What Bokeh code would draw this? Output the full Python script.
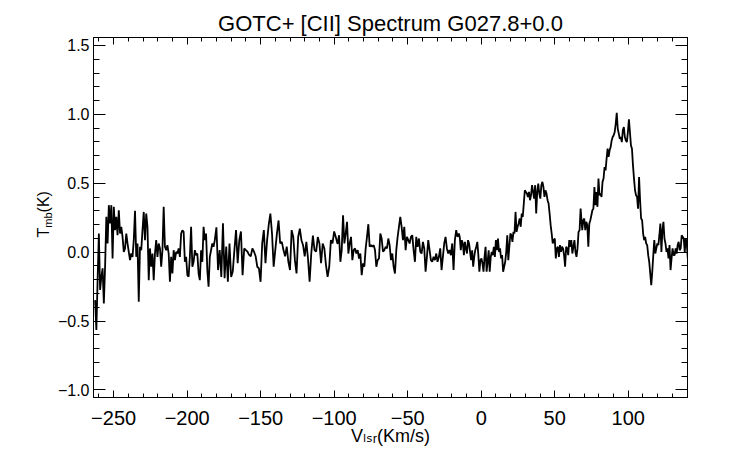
import numpy as np
from bokeh.plotting import figure
from bokeh.models import Range1d, FixedTicker, LinearAxis, Label
from bokeh.embed import file_html
from bokeh.resources import INLINE

# ---------------- data ----------------
# velocity span (km/s) of each traced piece of the spectrum
SEG_A_V = (-262.6, -181.2)
SEG_B_V = (-180.1, -97.8)
SEG_C_V = (-97.6, -15.2)
SEG_D_V = (-14.6, 67.6)
SEG_E_V = (68.7, 140.5)

tmb_a = [-0.348, -0.565, -0.203, 0.135, -0.275, -0.179, -0.118, -0.372, -0.106, 0.256,
         0.063, 0.341, 0.208, 0.341, -0.046, 0.329, 0.159, 0.256, 0.123, 0.304,
         0.135, 0.184, 0.111, 0.002, 0.027, 0.135, 0.063, 0.002, -0.058, -0.010,
         -0.034, 0.087, 0.300, -0.034, 0.063, -0.360, 0.039, 0.014, 0.159, 0.292,
         0.087, 0.280, 0.184, -0.203, 0.027, -0.106, -0.010, -0.203, -0.010, 0.087,
         -0.034, 0.063, 0.027, -0.106, 0.014, 0.329, 0.039, 0.014, 0.051, -0.010,
         -0.215, -0.034, -0.155, 0.014, -0.058, 0.002, -0.010, 0.027, -0.034, 0.135,
         0.159, 0.147, -0.070, -0.034, -0.167, -0.179, -0.034, 0.184, -0.106, -0.070,
         0.014, -0.022, -0.010, -0.155, -0.203, 0.014, -0.070, 0.184, 0.087, 0.135,
         -0.130, -0.251, -0.034, 0.014, 0.063, 0.039, 0.087]

tmb_b = [0.18, -0.13, 0.015, -0.18, 0.21, -0.19, 0.04, -0.215, 0.063, -0.18,
         -0.14, 0.015, 0.16, -0.08, 0.087, 0.15, -0.167, 0.027, 0.015, 0.003,
         -0.02, -0.03, 0.027, 0.003, -0.03, -0.106, -0.118, -0.215, 0.063, 0.16,
         -0.08, 0.087, 0.20, 0.28, 0.135, -0.106, 0.015, 0.135, 0.23, 0.063,
         0.075, 0.015, -0.03, 0.04, -0.07, -0.13, 0.16, 0.11, -0.058, -0.155,
         0.11, 0.17, 0.087, 0.05, -0.03, 0.075, -0.046, -0.215, -0.01, 0.12,
         0.015, 0.003, 0.11, 0.063, -0.08, 0.063, 0.027, -0.094, -0.18, -0.106,
         0.087, 0.063, 0.15, 0.11, 0.063]

tmb_c = [0.063, 0.123, -0.070, 0.015, 0.268, 0.063, 0.135, 0.22, -0.010, 0.063,
         0.111, -0.058, 0.015, 0.027, -0.010, 0.015, -0.046, -0.010, -0.167, -0.082,
         -0.106, 0.027, 0.111, 0.203, 0.039, 0.051, 0.039, 0.051, 0.015, -0.106,
         -0.058, -0.046, 0.135, 0.099, 0.003, 0.015, 0.039, 0.027, 0.099, 0.051,
         -0.058, -0.010, -0.106, -0.155, 0.015, 0.111, 0.184, 0.256, 0.184, 0.087,
         0.184, 0.015, 0.111, 0.087, 0.063, 0.111, 0.123, 0.015, -0.070, 0.111,
         0.039, 0.099, 0.003, -0.010, 0.075, 0.027, -0.142, -0.034, 0.087, 0.015,
         -0.058, -0.070, -0.034, -0.058, -0.010, -0.070, -0.034, 0.027, -0.130, -0.034,
         0.063, 0.111, 0.027, -0.010, 0.015, -0.022, 0.063, -0.130, 0.087, 0.160,
         0.111, 0.135]

tmb_d = [0.111, 0.014, 0.087, 0.063, -0.022, 0.075, 0.027, -0.010, 0.087, 0.063,
         0.002, -0.058, 0.014, -0.106, -0.034, 0.014, 0.039, 0.075, -0.022, -0.142,
         -0.058, -0.046, -0.082, -0.142, -0.034, 0.039, -0.142, -0.070, 0.014, -0.142,
         -0.034, 0.002, -0.022, 0.039, -0.034, 0.087, 0.014, 0.099, 0.002, 0.027,
         -0.046, -0.022, -0.142, -0.106, -0.070, 0.002, 0.123, -0.058, 0.039, 0.135,
         0.123, 0.075, 0.147, 0.135, 0.292, 0.147, 0.184, 0.208, 0.244, 0.184,
         0.280, 0.256, 0.353, 0.449, 0.437, 0.425, 0.401, 0.437, 0.377, 0.413,
         0.486, 0.437, 0.389, 0.486, 0.280, 0.437, 0.498, 0.425, 0.389, 0.486,
         0.510, 0.473, 0.401, 0.449, 0.425, 0.377, 0.353, 0.280, 0.196, 0.135,
         0.063, 0.087, 0.099, -0.046, 0.027, 0.039, -0.034, 0.051, 0.002, 0.039,
         0.027, -0.022, -0.106, 0.039, 0.027, -0.022, 0.087, 0.039, 0.087, -0.010,
         0.039, 0.087, 0.002, -0.034, 0.027, 0.147, 0.159, 0.316]

tmb_e = [0.159, 0.232, 0.244, 0.159, 0.220, 0.196, 0.039, 0.208, 0.232, 0.268,
         0.304, 0.316, 0.473, 0.341, 0.437, 0.329, 0.534, 0.413, 0.425, 0.401,
         0.510, 0.534, 0.618, 0.594, 0.679, 0.751, 0.691, 0.739, 0.763, 0.811,
         0.836, 0.848, 0.872, 0.932, 1.012, 0.896, 0.860, 0.823, 0.836, 0.799,
         0.884, 0.908, 0.836, 0.811, 0.799, 0.872, 0.964, 0.872, 0.775, 0.751,
         0.630, 0.534, 0.449, 0.413, 0.401, 0.316, 0.546, 0.377, 0.244, 0.232,
         0.135, 0.087, 0.111, 0.063, 0.051, -0.022, -0.070, -0.155, -0.239, -0.142,
         -0.022, 0.087, -0.010, 0.027, 0.063, 0.051, 0.123, 0.208, 0.002, 0.159,
         0.220, 0.099, 0.063, 0.002, 0.027, -0.046, 0.051, -0.130, -0.046, 0.027,
         -0.022, -0.022, 0.027, -0.010, 0.051, 0.075, 0.014, 0.027, 0.123, 0.111,
         0.099, 0.002, 0.099, 0.063, -0.046]

X_TICKS = [-250, -200, -150, -100, -50, 0, 50, 100]
X_TICK_LABELS = ["\u2212250", "\u2212200", "\u2212150", "\u2212100", "\u221250", "0", "50", "100"]
Y_TICKS = [-1.0, -0.5, 0.0, 0.5, 1.0, 1.5]
Y_TICK_LABELS = ["\u22121.0", "\u22120.5", "0.0", "0.5", "1.0", "1.5"]

TITLE = "GOTC+ [CII] Spectrum G027.8+0.0"
X_TITLE = "V\u2097\u209b\u1d63(Km/s)"          # V_lsr(Km/s)
Y_TITLE_PARTS = ["T", "mb", "(K)"]               # T_mb(K)

# ---------------- build ----------------
pieces = [(tmb_a, SEG_A_V), (tmb_b, SEG_B_V), (tmb_c, SEG_C_V), (tmb_d, SEG_D_V), (tmb_e, SEG_E_V)]
vel = np.concatenate([np.linspace(v0, v1, len(t)) for t, (v0, v1) in pieces])
tmb = np.concatenate([np.asarray(t, dtype=float) for t, _ in pieces])

FONT = "Liberation Sans"
FONT_SUB = "Liberation Sans, DejaVu Sans"
X0, X1 = -263.7, 140.3
Y0, Y1 = -1.055, 1.558
FW, FH = 594, 360

p = figure(frame_width=FW, frame_height=FH,
           x_range=Range1d(X0, X1), y_range=Range1d(Y0, Y1),
           output_backend="svg", toolbar_location=None,
           min_border_left=93, min_border_right=39, min_border_top=37, min_border_bottom=51)
p.background_fill_color = "white"
p.border_fill_color = "white"
p.outline_line_color = "black"
p.outline_line_width = 1
p.xgrid.visible = False
p.ygrid.visible = False

p.title.text = TITLE
p.title.align = "center"
p.title.text_font = FONT
p.title.text_font_size = "22px"
p.title.text_font_style = "normal"
p.title.text_color = "black"
p.title.standoff = 4

p.line(vel, tmb, line_color="black", line_width=1.8)

x_ticker = FixedTicker(ticks=X_TICKS, minor_ticks=list(range(-260, 141, 10)))
y_ticker = FixedTicker(ticks=Y_TICKS, minor_ticks=[round(v, 1) for v in np.arange(-1.0, 1.51, 0.1)])


def style(ax, major, minor, size, labels):
    ax.axis_line_color = "black"
    ax.axis_line_width = 1
    ax.major_tick_in = major
    ax.major_tick_out = 0
    ax.minor_tick_in = minor
    ax.minor_tick_out = 0
    ax.major_tick_line_color = "black"
    ax.minor_tick_line_color = "black"
    ax.major_tick_line_width = 1
    ax.minor_tick_line_width = 1
    ax.major_label_text_font = FONT
    ax.major_label_text_font_size = size
    if labels:
        ax.major_label_text_color = "black"
    else:
        ax.major_label_text_color = None
        ax.major_label_standoff = 0


xb = p.xaxis[0]
xb.ticker = x_ticker
xb.major_label_overrides = dict(zip(X_TICKS, X_TICK_LABELS))
style(xb, 7, 4, "20px", True)
xb.major_label_standoff = 13
xb.axis_label = X_TITLE
xb.axis_label_text_font = FONT_SUB
xb.axis_label_text_font_size = "18px"
xb.axis_label_text_font_style = "normal"
xb.axis_label_text_color = "black"
xb.axis_label_standoff = -2

yl = p.yaxis[0]
yl.ticker = y_ticker
yl.major_label_overrides = {float(k): v for k, v in zip(Y_TICKS, Y_TICK_LABELS)}
style(yl, 12, 6, "16px", True)
yl.major_label_standoff = 4

xt = LinearAxis(ticker=x_ticker)
style(xt, 7, 4, "16px", False)
p.add_layout(xt, "above")

yr = LinearAxis(ticker=y_ticker)
style(yr, 12, 6, "16px", False)
p.add_layout(yr, "right")


# ---------------- y axis title (side panel, so it is not clipped) ----------------
def dx(px):  # pixels right of the frame's left edge -> data x
    return X0 + px * (X1 - X0) / FW


def dy(py):  # pixels above the frame's bottom edge -> data y
    return Y0 + py * (Y1 - Y0) / FH


def ylab(text, px, py, size):
    p.add_layout(Label(x=dx(px), y=dy(py), x_units="data", y_units="data", text=text,
                       text_font=FONT, text_font_size=size, text_color="black",
                       text_align="left", text_baseline="alphabetic", angle=np.pi / 2),
                 "left")


ylab(Y_TITLE_PARTS[0], -50, 160, "16px")
ylab(Y_TITLE_PARTS[1], -46, 169.8, "11px")
ylab(Y_TITLE_PARTS[2], -50, 185.1, "16px")

open("out.html", "w").write(file_html(p, INLINE))
